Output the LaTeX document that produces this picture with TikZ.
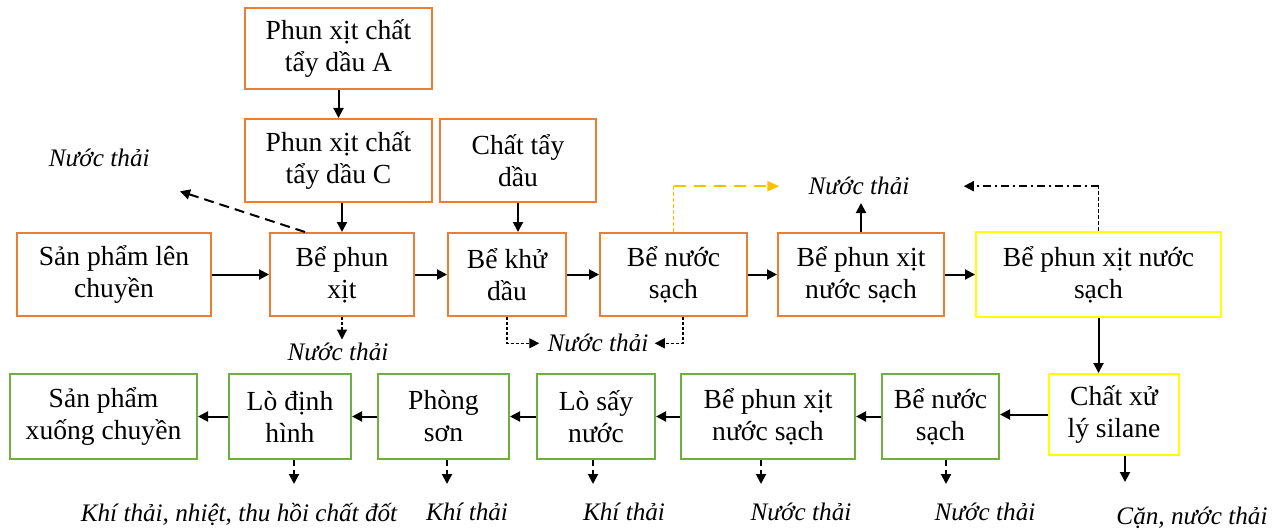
\documentclass[tikz,border=0pt]{standalone}
\usepackage{fontspec}
\setmainfont{Liberation Serif}
\usetikzlibrary{positioning,arrows.meta}
\definecolor{boxorange}{HTML}{ED7D31}
\definecolor{boxgreen}{HTML}{70AD47}
\definecolor{boxyellow}{HTML}{FFFF00}
\definecolor{flowgold}{HTML}{FFC000}
\tikzset{
  unit/.style={draw, line width=1.2pt, align=center, inner sep=2pt, fill=white, font=\fontsize{13.8}{16}\selectfont},
  stage/.style={unit, draw=boxorange, minimum height=41.3pt},
  coat/.style={unit, draw=boxgreen, minimum height=42.3pt},
  treat/.style={unit, draw=boxyellow, minimum height=42.3pt},
  waste/.style={font=\fontsize{12.6}{15}\selectfont\itshape, inner sep=0pt},
  arrow/.style={-{Triangle[length=5pt,width=5pt]}, line width=1pt},
  dasharrow/.style={arrow, dash pattern=on 5pt off 3pt},
  droparrow/.style={arrow, dash pattern=on 3pt off 2pt},
  dotarrow/.style={-{Triangle[length=5pt,width=5pt]}, line width=0.6pt, dash pattern=on 1.5pt off 1pt},
  thindash/.style={line width=0.6pt, dash pattern=on 2pt off 1pt},
  goldarrow/.style={-{Triangle[length=6pt,width=5pt]}, draw=flowgold, fill=flowgold, line width=1.2pt, dash pattern=on 6pt off 4pt},
  dotdash/.style={arrow, dash pattern=on 4pt off 2pt on 1pt off 2pt}
}

\begin{document}
\begin{tikzpicture}
  \useasboundingbox (0,0) rectangle (638.5pt,-264.5pt);
  % pre-treatment line
  \node[stage, minimum width=96.8pt] (load) at (57pt,-137.25pt) {Sản phẩm lên\\chuyền};
  \node[stage, right=28.5pt of load, minimum width=71.8pt] (spray) {Bể phun\\xịt};
  \node[stage, right=16pt of spray, minimum width=58.8pt] (degrease) {Bể khử\\dầu};
  \node[stage, right=16pt of degrease, minimum width=73.3pt] (rinse) {Bể nước\\sạch};
  \node[stage, right=14.5pt of rinse, minimum width=82.8pt] (rspray) {Bể phun xịt\\nước sạch};
  \node[treat, right=15pt of rspray, minimum width=122.3pt] (rspray2) {Bể phun xịt nước\\sạch};
  % chemical feed
  \node[stage, above=14.5pt of spray, xshift=-1.75pt, minimum width=93.3pt] (sprayC) {Phun xịt chất\\tẩy dầu C};
  \node[stage, above=14pt of sprayC, minimum width=93.3pt, minimum height=40.3pt] (sprayA) {Phun xịt chất\\tẩy dầu A};
  \node[stage, right=3pt of sprayC, minimum width=77.8pt] (agent) {Chất tẩy\\dầu};
  % silane, paint and curing line (runs right to left)
  \node[treat, below=27.5pt of rspray2, xshift=7.75pt, minimum width=64.8pt, minimum height=40.3pt] (silane) {Chất xử\\lý silane};
  \node[coat, left=24pt of silane, yshift=-1pt, minimum width=58.3pt] (rinse2) {Bể nước\\sạch};
  \node[coat, left=12.5pt of rinse2, minimum width=86.8pt] (rspray3) {Bể phun xịt\\nước sạch};
  \node[coat, left=12pt of rspray3, minimum width=58.8pt] (dryer) {Lò sấy\\nước};
  \node[coat, left=13pt of dryer, minimum width=65.3pt] (paint) {Phòng\\sơn};
  \node[coat, left=12.5pt of paint, minimum width=60.8pt] (curing) {Lò định\\hình};
  \node[coat, left=15pt of curing, minimum width=93.3pt] (unload) {Sản phẩm\\xuống chuyền};

  % discharges
  \node[waste, left=47pt of sprayC, yshift=1.25pt] (wspray) {Nước thải};
  \coordinate[below right=12pt and 15pt of wspray.south east] (wtip);
  \node[waste, below=13pt of spray, xshift=-2pt] (wspray2) {Nước thải};
  \node[waste, below=8.5pt of degrease, xshift=45.5pt] (wrinse) {Nước thải};
  \node[waste, above=18.25pt of rspray, xshift=-1pt] (wtop) {Nước thải};
  \node[waste, below=21.25pt of curing, xshift=-25.5pt] (wcure) {Khí thải, nhiệt, thu hồi chất đốt};
  \node[waste, below=21.25pt of paint, xshift=11.75pt] (wpaint) {Khí thải};
  \node[waste, below=21.25pt of dryer, xshift=14pt] (wdry) {Khí thải};
  \node[waste, below=21.25pt of rspray3, xshift=16.5pt] (wrspray) {Nước thải};
  \node[waste, below=21.25pt of rinse2, xshift=22.25pt] (wrinse2) {Nước thải};
  \node[waste, below=25.25pt of silane, xshift=39pt] (wsilane) {Cặn, nước thải};

  % main flow
  \draw[arrow] (sprayA) -- (sprayC);
  \draw[arrow] (spray.north |- sprayC.south) -- (spray);
  \draw[arrow] (agent.south) -- (agent.south |- degrease.north);
  \draw[arrow] (load) -- (spray);
  \draw[arrow] (spray) -- (degrease);
  \draw[arrow] (degrease) -- (rinse);
  \draw[arrow] (rinse) -- (rspray);
  \draw[arrow] (rspray) -- (rspray2);
  \draw[arrow] (rspray2.south) -- (rspray2.south |- silane.north);
  \draw[arrow] (silane.west) -- (silane.west -| rinse2.east);
  \draw[arrow] (rinse2) -- (rspray3);
  \draw[arrow] (rspray3) -- (dryer);
  \draw[arrow] (dryer) -- (paint);
  \draw[arrow] (paint) -- (curing);
  \draw[arrow] (curing) -- (unload);

  % waste streams
  \draw[dasharrow] ([xshift=-18.5pt]spray.north) -- (wtip);
  \draw[dotarrow, shorten >=1.75pt] (spray.south) -- (spray.south |- wspray2.north);
  \draw[dotarrow, shorten >=4pt] (degrease.south) |- (wrinse.west);
  \draw[dotarrow, shorten >=3pt] ([xshift=4.75pt]rinse.south) |- (wrinse.east);
  \draw[thindash, draw=flowgold] (rinse.north) -- (rinse.north |- wtop.west) coordinate (goldturn);
  \draw[goldarrow, shorten >=14.5pt] (goldturn) -- (wtop.west);
  \draw[arrow, shorten >=3.75pt] (rspray.north) -- (rspray.north |- wtop.south);
  \draw[thindash] (rspray2.north) -- (rspray2.north |- wtop.east) coordinate (dashturn);
  \draw[dotdash, shorten >=27pt] (dashturn) -- (wtop.east);
  \draw[droparrow, shorten >=9.25pt] ([xshift=2pt]curing.south) -- ([xshift=2pt]curing.south |- wcure.north);
  \draw[droparrow, shorten >=9.25pt] ([xshift=1.75pt]paint.south) -- ([xshift=1.75pt]paint.south |- wpaint.north);
  \draw[droparrow, shorten >=9.25pt] ([xshift=-1.5pt]dryer.south) -- ([xshift=-1.5pt]dryer.south |- wdry.north);
  \draw[droparrow, shorten >=9.25pt] ([xshift=-3.5pt]rspray3.south) -- ([xshift=-3.5pt]rspray3.south |- wrspray.north);
  \draw[droparrow, shorten >=9.25pt] ([xshift=2.75pt]rinse2.south) -- ([xshift=2.75pt]rinse2.south |- wrinse2.north);
  \draw[arrow, shorten >=12.25pt] ([xshift=5.5pt]silane.south) -- ([xshift=5.5pt]silane.south |- wsilane.north);
\end{tikzpicture}
\end{document}
